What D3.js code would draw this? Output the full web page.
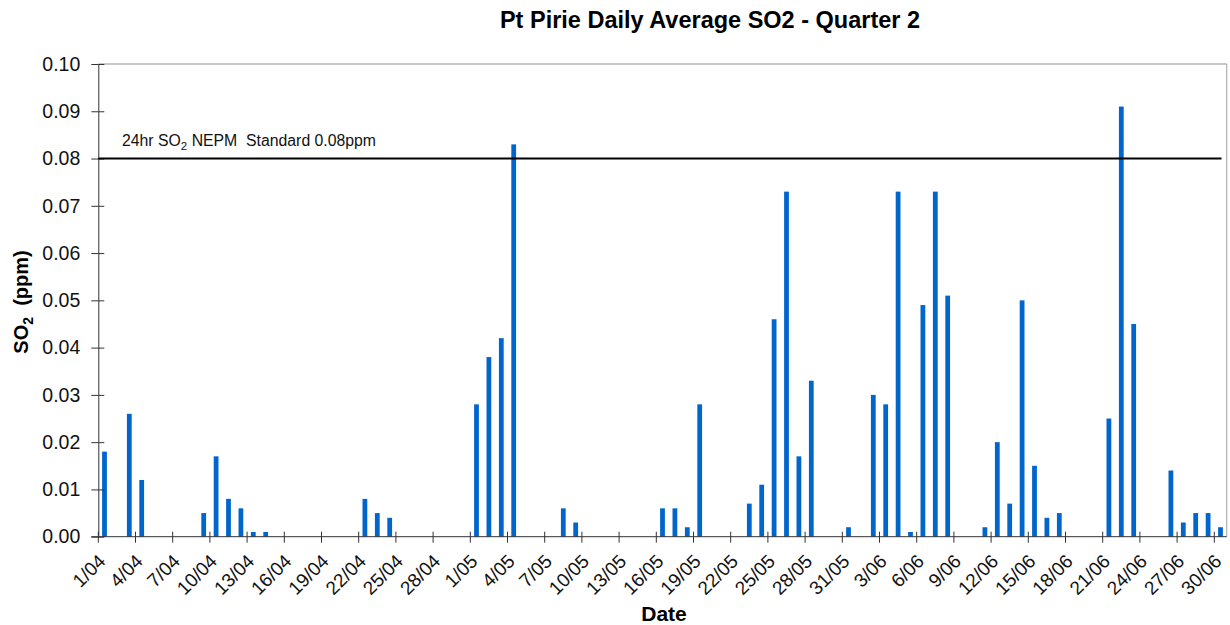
<!DOCTYPE html>
<html>
<head>
<meta charset="utf-8">
<script src="https://cdn.jsdelivr.net/npm/d3@7"></script>
<style>
  html, body { margin: 0; padding: 0; background: #fff; }
  svg { display: block; font-family: Arial, "Liberation Sans", sans-serif; }
  text { white-space: pre; }
</style>
</head>
<body>
<svg id="chart" width="1230" height="625"></svg>
<script>
// Daily categories, 1 April to 30 June
const dates = [
  "1/04","2/04","3/04","4/04","5/04","6/04","7/04","8/04","9/04","10/04",
  "11/04","12/04","13/04","14/04","15/04","16/04","17/04","18/04","19/04","20/04",
  "21/04","22/04","23/04","24/04","25/04","26/04","27/04","28/04","29/04","30/04",
  "1/05","2/05","3/05","4/05","5/05","6/05","7/05","8/05","9/05","10/05",
  "11/05","12/05","13/05","14/05","15/05","16/05","17/05","18/05","19/05","20/05",
  "21/05","22/05","23/05","24/05","25/05","26/05","27/05","28/05","29/05","30/05","31/05",
  "1/06","2/06","3/06","4/06","5/06","6/06","7/06","8/06","9/06","10/06",
  "11/06","12/06","13/06","14/06","15/06","16/06","17/06","18/06","19/06","20/06",
  "21/06","22/06","23/06","24/06","25/06","26/06","27/06","28/06","29/06","30/06"
];

// Daily average SO2 (ppm); null = no value recorded
const so2 = [
  0.018, null, 0.026, 0.012, null, null, null, null, 0.005, 0.017,
  0.008, 0.006, 0.001, 0.001, null, null, null, null, null, null,
  null, 0.008, 0.005, 0.004, null, null, null, null, null, null,
  0.028, 0.038, 0.042, 0.083, null, null, null, 0.006, 0.003, null,
  null, null, null, null, null, 0.006, 0.006, 0.002, 0.028, null,
  null, null, 0.007, 0.011, 0.046, 0.073, 0.017, 0.033, null, null, 0.002,
  null, 0.030, 0.028, 0.073, 0.001, 0.049, 0.073, 0.051, null, null,
  0.002, 0.020, 0.007, 0.050, 0.015, 0.004, 0.005, null, null, null,
  0.025, 0.091, 0.045, null, null, 0.014, 0.003, 0.005, 0.005, 0.002
];

const dateTicks = [
  "1/04","4/04","7/04","10/04","13/04","16/04","19/04","22/04","25/04","28/04",
  "1/05","4/05","7/05","10/05","13/05","16/05","19/05","22/05","25/05","28/05","31/05",
  "3/06","6/06","9/06","12/06","15/06","18/06","21/06","24/06","27/06","30/06"
];

const yTicks = [0, 0.01, 0.02, 0.03, 0.04, 0.05, 0.06, 0.07, 0.08, 0.09, 0.10];

const standardValue = 0.08;

const rows = dates.map((d, i) => ({ date: d, value: so2[i] }));

// Plot area
const plot = { left: 98.3, right: 1226.7, top: 64, bottom: 536.7 };

const svg = d3.select("#chart");

const x = d3.scaleBand()
  .domain(dates)
  .range([plot.left, plot.right])
  .paddingInner(0.615)
  .paddingOuter(0.3075);

const y = d3.scaleLinear()
  .domain([0, 0.1])
  .range([plot.bottom, plot.top]);

const step = x.step();
const bw = x.bandwidth();
const slotLeft = d => x(d) - (step - bw) / 2;
const slotMid = d => x(d) + bw / 2;

// Frame: light top and right edges
svg.append("line")
  .attr("x1", plot.left).attr("x2", plot.right)
  .attr("y1", plot.top).attr("y2", plot.top)
  .attr("stroke", "#b4b4b4").attr("stroke-width", 1.3);
svg.append("line")
  .attr("x1", plot.right).attr("x2", plot.right)
  .attr("y1", plot.top).attr("y2", plot.bottom)
  .attr("stroke", "#b4b4b4").attr("stroke-width", 1.3);

// Bars
svg.append("g")
  .selectAll("rect")
  .data(rows.filter(r => r.value != null))
  .join("rect")
  .attr("x", r => x(r.date))
  .attr("width", bw)
  .attr("y", r => y(r.value))
  .attr("height", r => y(0) - y(r.value))
  .attr("fill", "#0066cc");

// Y axis
const yAxis = svg.append("g")
  .attr("transform", `translate(${plot.left},0)`)
  .call(d3.axisLeft(y)
    .tickValues(yTicks)
    .tickFormat(d3.format(".2f"))
    .tickSizeInner(7)
    .tickSizeOuter(0)
    .tickPadding(11));
yAxis.select(".domain").attr("stroke", "#333");
yAxis.selectAll(".tick line").attr("stroke", "#333");
yAxis.selectAll(".tick")
  .append("line")
  .attr("x1", 0).attr("x2", 6)
  .attr("stroke", "#333");
yAxis.selectAll(".tick text")
  .attr("font-size", 19.5)
  .attr("fill", "#111")
  .attr("font-family", "Arial, 'Liberation Sans', sans-serif");

// X axis line
svg.append("line")
  .attr("x1", plot.left - 7).attr("x2", plot.right)
  .attr("y1", y(0)).attr("y2", y(0))
  .attr("stroke", "#333");

// X ticks at category boundaries, every third day
const xt = svg.append("g");
xt.selectAll("line")
  .data(dateTicks)
  .join("line")
  .attr("x1", d => slotLeft(d)).attr("x2", d => slotLeft(d))
  .attr("y1", y(0) - 5).attr("y2", y(0) + 6)
  .attr("stroke", "#333");
xt.selectAll("text")
  .data(dateTicks)
  .join("text")
  .attr("transform", d => `translate(${slotMid(d) - 2.5},${y(0) + 21}) rotate(-45)`)
  .attr("text-anchor", "end")
  .attr("dy", "0.35em")
  .attr("font-size", 19)
  .attr("fill", "#111")
  .text(d => d);

// Standard line
svg.append("line")
  .attr("x1", plot.left)
  .attr("x2", slotMid(dates[dates.length - 1]) + 1)
  .attr("y1", y(standardValue)).attr("y2", y(standardValue))
  .attr("stroke", "#000").attr("stroke-width", 2);

const stdLabel = svg.append("text")
  .attr("x", 122).attr("y", y(standardValue) - 13)
  .attr("font-size", 15.8)
  .attr("fill", "#111");
stdLabel.append("tspan").text("24hr SO");
stdLabel.append("tspan").attr("dy", 4).attr("font-size", 11.5).text("2");
stdLabel.append("tspan").attr("dy", -4).text(" NEPM  Standard 0.08ppm");

// Title
svg.append("text")
  .attr("x", 710).attr("y", 28)
  .attr("text-anchor", "middle")
  .attr("font-size", 23.5)
  .attr("font-weight", "bold")
  .attr("fill", "#000")
  .text("Pt Pirie Daily Average SO2 - Quarter 2");

// Axis titles
const yTitle = svg.append("text")
  .attr("transform", `translate(28,302) rotate(-90)`)
  .attr("text-anchor", "middle")
  .attr("font-size", 20)
  .attr("font-weight", "bold")
  .attr("fill", "#000");
yTitle.append("tspan").text("SO");
yTitle.append("tspan").attr("dy", 5).attr("font-size", 14).text("2");
yTitle.append("tspan").attr("dy", -5).text("  (ppm)");

svg.append("text")
  .attr("x", 664).attr("y", 621)
  .attr("text-anchor", "middle")
  .attr("font-size", 21)
  .attr("font-weight", "bold")
  .attr("fill", "#000")
  .text("Date");
</script>
</body>
</html>
